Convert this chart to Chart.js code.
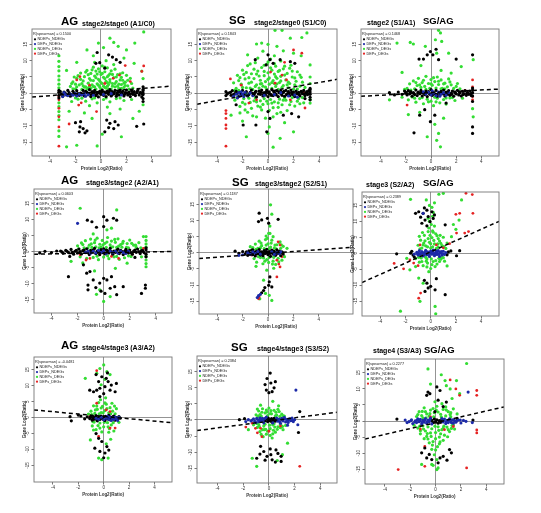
<!DOCTYPE html>
<html><head><meta charset="utf-8">
<script src="https://cdn.jsdelivr.net/npm/chart.js@4.4.1/dist/chart.umd.min.js"></script>
<style>
html,body{margin:0;padding:0;background:#fff;width:541px;height:513px;overflow:hidden;position:relative;font-family:"Liberation Sans",Arial,sans-serif}
.t{position:absolute;font-weight:bold;white-space:nowrap;line-height:1;color:#000}
</style></head><body>
<script>
// ---------- text / ticks ----------
const legendLabels = ['NDEPs_NDEGs','DEPs_NDEGs','NDEPs_DEGs','DEPs_DEGs'];
const groupNames = ['AG','SG','SG/AG','AG','SG','SG/AG','AG','SG','SG/AG'];
const comparisons = ['stage2/stage0 (A1/C0)','stage2/stage0 (S1/C0)','stage2 (S1/A1)','stage3/stage2 (A2/A1)','stage3/stage2 (S2/S1)','stage3 (S2/A2)','stage4/stage3 (A3/A2)','stage4/stage3 (S3/S2)','stage4 (S3/A3)'];
const spearman = ['0.1500','0.1843','0.1468','0.0603','0.1187','0.2389','-0.0481','0.2384','0.2277'];
const xTickValues = [-4,-2,0,2,4];
const yTickValues = [-15,-10,-5,0,5,10,15];
const xAxisTitle = 'Protein Log2(Ratio)';
const yAxisTitle = 'Gene Log2(Ratio)';

// ---------- data: flat [x,y,...] ----------
// Panel 1 AG A1/C0
const p1Black = [-3.3,0.3,-3.3,-0.6,-3.3,-1.4,-3.3,0.9,-3.1,-0.2,-2.9,0.4,-2.7,-0.5,-2.5,0.2,-2.4,-0.9,-2.2,0.6,-2.0,-0.3,-1.9,0.8,-1.7,-0.6,-1.6,0.1,-1.4,0.9,-1.3,-0.8,-1.1,0.3,-1.0,-0.4,-0.9,1.1,-0.8,-1.0,-0.7,0.5,-0.6,-0.2,-0.5,0.9,-0.4,-0.7,-0.3,0.3,-0.2,-1.1,-0.1,0.6,0,-0.3,0.1,1.0,0.2,-0.6,0.3,0.2,0.4,-1.0,0.5,0.7,0.6,-0.3,0.7,1.1,0.8,-0.8,0.9,0.4,1.0,-0.2,1.1,0.9,1.2,-0.9,1.3,0.3,1.4,-0.5,1.5,1.0,1.6,-0.2,1.7,0.6,1.8,-0.8,1.9,0.2,2.0,1.0,2.1,-0.5,2.2,0.4,2.3,-1.0,2.4,0.8,2.5,-0.3,2.6,0.5,2.7,-0.7,2.8,0.2,2.9,1.1,3.0,-0.5,3.1,0.3,3.2,-1.1,3.3,0.8,3.3,-0.4,3.3,-1.6,3.3,0.1,3.3,1.2,
 -3.2,0.6,-3.0,-0.9,-2.8,0.0,-2.6,0.9,-2.3,-0.4,-2.1,0.1,-1.8,-0.1,-1.5,-0.3,-1.2,0.6,-0.95,-0.1,-0.75,-0.4,-0.55,0.3,-0.35,-0.3,-0.15,0.1,0.05,0.4,0.25,-0.2,0.45,0.1,0.65,0.4,0.85,-0.5,1.05,0.2,1.25,-0.3,1.45,0.5,1.65,0.2,1.85,-0.3,2.05,0.1,2.25,-0.2,2.45,0.0,2.65,-0.4,2.85,0.6,3.05,0.1,3.25,-0.2,
 -0.3,12.5,-0.1,9.4,0.6,11.8,0.9,11.1,1.2,10.3,-0.4,9.2,0.3,7.7,1.5,9.5,-1.65,-10.3,-1.4,-10.8,-1.1,-11.5,-1.25,-12.1,-1.7,-11.8,-1.6,-8.7,0.45,-8.2,0.7,-9.2,1.1,-8.7,1.35,-9.7,1.0,-10.8,0.6,-10.5,2.8,-10.1,3.35,-9.4,0.3,-11.8,-2.0,-9.0,3.3,2.0,3.3,-2.5];
const p1Blue = [-2.8,-0.4,-2.6,-0.7,-2.4,-0.2,-2.2,-0.6,-2.0,-0.1,-1.9,-0.8,-1.7,-0.3,-1.5,-0.5,-1.3,-0.1,-1.2,-0.9,-1.0,-0.4,-0.6,-0.6,0.2,-0.4,0.8,-0.1,1.6,-0.5,-2.9,0.2,-3.0,-1.0];
const p1Green = [-3.3,11.5,-3.3,9.8,-3.3,8.2,-3.3,6.9,-3.3,5.3,-3.3,4.1,-3.3,2.8,-3.3,1.7,-3.3,-2.9,-3.3,-4.1,-3.3,-5.6,-3.3,-6.8,-3.3,-8.1,-3.3,-11.5,-3.3,-13.2,
 -2.4,2.1,-2.2,3.5,-2.0,1.4,-1.9,4.6,-1.7,2.6,-1.6,6.2,-1.5,1.2,-1.4,3.8,-1.3,5.1,-1.2,2.0,-1.1,7.0,-1.0,3.1,-0.9,4.5,-0.8,1.5,-0.8,6.1,-0.7,2.6,-0.6,8.0,-0.6,3.9,-0.5,5.3,-0.4,1.3,-0.4,6.8,-0.3,2.9,-0.2,4.3,-0.2,7.5,-0.1,1.9,0,5.8,0,3.3,0.1,8.4,0.2,2.2,0.2,4.9,0.3,6.6,0.4,1.6,0.4,3.7,0.5,7.8,0.6,2.7,0.6,5.5,0.7,4.2,0.8,1.3,0.8,6.9,0.9,3.0,1.0,4.8,1.1,2.0,1.1,7.4,1.2,3.6,1.3,5.7,1.4,1.5,1.5,4.1,1.6,2.7,1.7,6.3,1.8,1.8,1.9,3.4,2.1,2.3,2.3,4.6,2.5,1.6,
 -2.0,2.8,-1.8,5.4,-1.5,3.0,-1.3,1.9,-1.0,5.7,-0.9,2.2,-0.7,7.2,-0.5,2.0,-0.3,5.9,-0.1,3.8,0.1,6.1,0.3,1.8,0.3,4.5,0.5,3.2,0.7,6.0,0.9,2.2,1.0,8.8,1.2,5.0,1.4,2.8,1.6,4.9,1.8,3.1,2.0,5.5,2.2,1.3,-2.2,1.4,-1.1,1.3,0.0,1.4,0.6,1.3,1.6,1.5,-0.5,9.5,0.4,10.0,
 -2.3,3.0,-2.1,5.0,-1.9,2.0,-1.6,4.3,-1.4,2.3,-1.2,6.5,-1.0,1.6,-0.8,4.0,-0.6,2.1,-0.4,4.8,-0.2,2.5,-0.1,6.6,0.1,3.0,0.3,8.0,0.5,2.2,0.5,5.1,0.7,3.4,0.9,5.8,1.1,3.0,1.3,2.2,1.5,6.0,1.7,4.0,1.9,2.4,2.1,4.0,2.4,3.0,-1.5,-1.5,-0.5,-1.4,0.4,-1.4,1.5,-1.4,-2.0,-1.4,
 -1.8,-1.8,-1.2,-2.4,-0.7,-1.7,-0.3,-2.9,0.2,-1.9,0.7,-2.6,1.2,-1.6,1.8,-2.2,-0.9,-3.8,0.5,-4.2,-2.3,-2.5,2.4,-1.9,
 3.35,18.8,0.7,16.9,-0.2,15.4,1.0,15.6,2.65,15.4,2.0,13.3,-1.1,13.3,0.2,14,1.35,14.4,-0.6,11.5,1.8,10.8,-1.9,9.5,2.6,9.2,-2.7,7.0,3.2,6.8,3.3,4.5,3.3,-3.5,-1.9,-15.9,-2.7,-16.4,-0.3,-16.1,-0.7,-7.7,0.7,-6.2,2.5,-7.7,1.6,-13.3,-1.3,-6.0,0.1,-12.5,-2.5,-5.5,1.5,-4.8,3.0,-5.5];
const p1Red = [-1.65,5.1,3.35,8.4,1.45,5.6,0.95,4.6,-1.55,-2.9,-1.75,-3.6,-3.3,-1.0,-3.3,-2.0,-3.3,-4.6,-3.3,-7.2,-3.3,-10.3,-3.3,-16.2,-2.5,-9.4,-0.35,-5.6,3.2,6.7,2.3,3.6,-1.9,4.1,0.3,3.0,1.9,8.5,-0.9,2.5];
const p1Fit = [-5.41,-1.15,5.49,2.2];

// Panel 2 SG S1/C0
const p2Black = [-3.3,0.5,-3.3,-0.7,-3.1,0.1,-2.9,-0.6,-2.8,0.8,-2.6,-0.1,-2.5,0.6,-2.3,-0.9,-2.2,0.2,-2.0,0.9,-1.9,-0.4,-1.7,0.5,-1.6,-0.8,-1.4,0.3,-1.3,1.0,-1.1,-0.5,-1.0,0.4,-0.9,-1.1,-0.7,0.7,-0.6,-0.3,-0.5,1.0,-0.4,-0.8,-0.3,0.2,-0.2,-0.5,-0.1,0.9,0,-1.0,0.1,0.4,0.2,-0.3,0.3,1.1,0.4,-0.7,0.5,0.3,0.6,-0.2,0.7,0.8,0.8,-1.0,0.9,0.1,1.0,0.7,1.1,-0.6,1.2,0.3,1.3,-0.9,1.4,0.9,1.5,-0.2,1.6,0.5,1.7,-0.7,1.8,1.0,1.9,-0.3,2.0,0.4,2.1,-1.0,2.2,0.7,2.3,-0.2,2.4,0.3,2.5,-0.8,2.6,0.6,2.7,-0.1,2.8,0.9,2.9,-0.7,3.0,0.2,3.1,-0.4,3.2,0.8,3.3,-1.2,3.3,0.4,3.3,-0.3,3.3,1.1,3.3,-2.0,
 -3.2,-0.2,-2.95,0.3,-2.7,-0.4,-2.4,0.0,-2.1,-0.3,-1.8,0.1,-1.5,-0.4,-1.2,0.0,-0.95,0.6,-0.75,-0.2,-0.55,0.4,-0.35,-0.3,-0.15,0.3,0.05,0.0,0.25,-0.6,0.45,0.6,0.65,-0.5,0.85,0.4,1.05,-0.1,1.25,0.6,1.45,-0.4,1.65,0.0,1.85,0.3,2.05,-0.5,2.25,0.1,2.45,-0.4,2.65,0.2,2.85,-0.2,3.05,0.5,3.25,0.0,
 0,11.8,0.15,10.3,-0.15,8.7,0.95,10.3,1.75,9.7,0.4,9.2,-1.0,10.3,2.1,9.2,-1.95,-9.7,-0.95,-9.7,0,-5.6,0.15,-7.7,1.2,-6.7,1.85,-6.2,-0.1,-11.8,2.4,-7.2,-2.5,-3.5,3.3,1.5,2.9,-1.6];
const p2Blue = [-2.5,-0.3,-2.3,0.2,-2.2,-0.8,-2.1,0.5,-2.0,-0.2,-1.9,-1.0,-1.8,0.3,-1.6,-0.5,-1.4,0.1,-2.4,-1.4,-1.2,-0.7,0.5,-0.4,1.0,0.2,2.1,-0.5,2.3,-1.2,1.6,-0.8,-0.3,-0.6,-2.7,-0.9];
const p2Green = [-2.7,3.2,-2.6,-2.1,-2.4,5.5,-2.3,0.9,-2.2,-4.0,-2.1,2.8,-2.0,7.1,-1.9,-1.6,-1.8,4.4,-1.7,1.7,-1.6,-5.8,-1.6,8.5,-1.5,3.1,-1.4,-2.8,-1.3,6.0,-1.2,1.2,-1.2,-6.9,-1.1,4.5,-1.0,-1.4,-1.0,9.4,-0.9,2.6,-0.8,-3.9,-0.8,6.8,-0.7,1.6,-0.6,4.0,-0.6,-2.3,-0.5,7.9,-0.5,-5.1,-0.4,2.2,-0.3,5.4,-0.3,-1.6,-0.2,3.6,-0.2,-7.6,-0.1,8.9,-0.1,1.3,0,6.3,0,-3.2,0.1,2.8,0.1,4.7,0.2,-1.9,0.2,10.5,0.3,7.1,0.3,1.5,0.4,-4.4,0.4,3.9,0.5,5.9,0.5,-2.6,0.6,8.3,0.6,2.1,0.7,-6.2,0.7,4.6,0.8,1.2,0.8,6.7,0.9,-1.8,0.9,3.3,1.0,9.9,1.0,5.2,1.1,-3.5,1.2,2.4,1.2,7.5,1.3,-1.3,1.4,4.1,1.5,-5.3,1.5,6.1,1.6,1.7,1.7,3.0,1.8,-2.5,1.8,8.6,1.9,5.0,2.0,1.3,2.1,-3.9,2.2,3.7,2.3,6.6,2.4,-1.6,2.5,2.2,2.6,4.9,2.8,-2.9,2.9,1.8,
 -2.5,1.5,-2.3,3.9,-2.0,-2.8,-1.9,5.8,-1.7,-0.2,-1.5,4.8,-1.4,1.6,-1.3,-4.6,-1.1,7.4,-1.0,2.1,-0.9,-2.6,-0.7,5.3,-0.6,2.9,-0.4,-3.4,-0.3,8.6,-0.2,1.9,0,4.3,0.2,7.8,0.3,-3.0,0.5,3.0,0.6,5.1,0.8,-2.9,0.9,7.0,1.1,1.8,1.3,5.6,1.4,-2.1,1.6,3.4,1.7,7.7,1.9,-1.3,2.1,4.7,2.3,1.3,2.5,-3.2,2.7,3.4,-0.8,10.8,0.5,11.5,-2.2,-6.0,1.0,-5.8,
 -2.6,0.9,-2.4,-1.2,-2.2,4.8,-2.0,1.8,-1.8,-3.3,-1.7,6.4,-1.5,-1.5,-1.3,3.4,-1.1,-2.3,-0.9,5.9,-0.6,-4.2,-0.5,3.0,-0.3,6.7,-0.1,-2.4,0.0,9.6,0.1,-5.2,0.3,3.3,0.5,9.1,0.7,2.9,0.8,-4.3,1.0,3.8,1.2,-2.1,1.3,8.3,1.5,2.6,1.7,-3.5,1.9,6.8,2.1,2.6,2.3,-2.4,2.5,5.6,2.7,-1.3,-1.4,9.0,0.4,-7.2,
 3.3,8.7,3.3,5.0,3.3,3.0,3.3,-1.9,3.3,-3.0,
 0.55,19.3,1.1,19.3,3.05,18.5,2.65,17.1,1.75,16.9,-0.5,15.4,-0.9,15.1,0,15.0,0.7,14.4,2.0,12.3,-0.4,12.9,1.2,13.0,-1.6,11.8,2.6,11.5,-1.7,-13.3,0,-12.3,0.95,-13.8,2.0,-11.8,-0.9,-7.2,-1.8,-5.1,-2.0,-8.5,0.1,-10.3,1.3,-9.0,-2.9,-6.7,0.4,-16.5];
const p2Red = [-2.95,4.4,-3.3,-6.2,-3.3,-7.7,-3.3,-9.7,-3.3,-10.8,-3.3,-16.2,-3.3,-5.3,2.0,13.3,2.65,12.3,1.1,5.6,1.45,4.1,0.55,3.1,-0.9,-2.0,1.75,-2.0,2.8,0.3,-2.1,2.5,0.2,6.5,1.3,9.5,-1.5,-3.0,2.9,-4.5];
const p2Fit = [-5.57,-3.35,5.41,4.3];

// Panel 3 SG/AG S1/A1
const p3Black = [-3.3,0.2,-2.9,-0.5,-2.6,0.4,-2.3,-0.3,-2.1,0.7,-2.0,0.3,-1.9,-0.5,-1.8,0.8,-1.7,-0.2,-1.6,0.5,-1.5,-0.9,-1.4,0.2,-1.3,-0.4,-1.2,1.0,-1.1,-0.7,-1.0,0.4,-0.9,-0.1,-0.8,0.9,-0.7,-0.8,-0.6,0.1,-0.5,-0.4,-0.4,0.7,-0.3,-1.0,-0.2,0.5,-0.1,-0.3,0,1.1,0.1,-0.6,0.2,0.3,0.3,-0.2,0.4,0.9,0.5,-0.9,0.6,0.2,0.7,-0.5,0.8,0.6,0.9,-0.1,1.0,1.0,1.1,-0.8,1.2,0.4,1.3,-0.3,1.4,0.8,1.5,-0.6,1.6,0.1,1.7,0.7,1.8,-0.9,1.9,0.3,2.0,-0.2,2.1,0.9,2.2,-0.5,2.3,0.2,2.4,-0.8,2.5,0.6,2.6,-0.1,2.7,0.8,2.8,-0.6,2.9,0.3,3.0,-0.3,3.1,0.7,3.2,-0.7,3.3,0.2,3.3,-0.8,3.3,1.0,
 -1.95,0.0,-1.65,0.2,-1.35,-0.1,-1.05,0.1,-0.75,0.3,-0.45,-0.1,-0.15,0.2,0.15,0.0,0.45,-0.3,0.75,0.1,1.05,-0.2,1.35,0.1,1.65,-0.3,1.95,0.0,2.25,0.4,2.55,-0.4,2.85,0.0,3.15,-0.1,
 -0.95,10.5,-0.6,10.5,-0.3,11.8,-0.05,12.8,0.4,13.5,0.15,11.8,0.6,10.3,2.0,10.5,3.3,11.8,3.3,-10.3,3.3,-12.3,-0.9,-6.7,-0.05,-8.7,-1.35,-12.1,0.3,-6.7,-0.5,-5.0,3.3,-2.5,3.3,1.6,1.2,-3.0];
const p3Blue = [-0.4,-0.2,-0.2,0.3,0,-0.5,0.2,0.1,0.4,-0.7,0.6,0.4,0.8,-0.3,1.0,0.2,1.2,-0.6,1.4,0.3,0.1,0.8,0.7,-0.9,-0.6,0.5];
const p3Green = [-1.9,1.5,-1.8,-2.0,-1.7,2.9,-1.5,-1.1,-1.4,3.8,-1.3,1.4,-1.2,-2.7,-1.1,2.4,-1.0,4.6,-0.9,-1.6,-0.8,1.8,-0.7,3.3,-0.6,-3.2,-0.5,2.1,-0.4,5.2,-0.3,-1.8,-0.2,3.0,-0.1,1.5,0,4.2,0,-2.4,0.1,2.5,0.2,-3.8,0.3,3.6,0.4,1.6,0.5,5.0,0.5,-1.5,0.6,2.7,0.7,-2.9,0.8,4.1,0.9,1.5,1.0,-1.9,1.1,3.1,1.2,-3.3,1.3,2.0,1.4,4.4,1.5,-1.4,1.6,2.6,1.8,1.5,1.9,-2.2,2.1,3.0,2.3,1.4,2.5,-1.5,-2.3,-1.2,-2.1,1.2,
 -1.6,1.0,-1.2,3.3,-0.9,2.6,-0.6,4.0,-0.4,1.2,-0.2,-2.6,0,2.9,0.2,4.8,0.4,-2.6,0.6,3.7,0.8,1.4,1.0,2.9,1.2,-1.4,1.5,3.5,1.7,-1.3,2.0,2.1,-1.3,-1.5,-0.7,-1.3,0.3,-1.2,1.1,1.4,
 0.6,19.3,0.75,18.5,-1.65,15.6,-1.4,15.1,0.35,16.4,0.85,15.9,-0.45,14.4,0.45,12.3,1.4,12.3,3.35,10.3,-2.3,6.4,-2.7,15.4,0.8,7.0,-0.8,8.5,1.6,6.2,0.6,-12.3,0.45,-14.4,0.75,-16.4,-0.3,-13.3,3.35,-7.2,-3.3,-2.0,-0.9,-5.8,0.3,-9.5,1.0,-7.6,-1.8,-6.5,3.3,-4.7,2.4,8.2];
const p3Red = [3.3,4.1,3.3,2.0,3.3,-1.0,3.3,-2.0,-1.9,-3.6,2.7,0.9];
const p3Fit = [-5.56,-0.9,5.4,1.3];

// Panel 4 AG A2/A1
const p4Black = [-4.9,-0.4,-4.5,0.1,-4.0,-0.3,-3.6,0.2,-3.3,0.2,-3.1,-0.5,-2.9,0.4,-2.7,-0.3,-2.5,0.7,-2.3,-0.8,-2.2,0.1,-2.0,-0.4,-1.9,0.8,-1.7,-0.7,-1.6,0.3,-1.4,-0.2,-1.3,0.9,-1.1,-0.9,-1.0,0.4,-0.9,-0.1,-0.7,1.0,-0.6,-0.6,-0.5,0.2,-0.3,-0.9,-0.2,0.6,-0.1,-0.3,0,0.9,0.1,-0.7,0.3,0.3,0.4,-0.4,0.5,1.0,0.7,-0.8,0.8,0.2,0.9,-0.2,1.1,0.8,1.2,-0.6,1.3,0.4,1.5,-0.9,1.6,0.1,1.7,0.7,1.9,-0.4,2.0,0.5,2.2,-0.8,2.3,0.2,2.5,-0.2,2.6,0.8,2.8,-0.6,2.9,0.3,3.1,-0.3,3.25,0.6,3.25,-0.8,3.25,-1.6,3.25,1.2,
 -3.2,-0.1,-2.8,0.1,-2.4,-0.2,-2.1,0.4,-1.8,0.0,-1.5,0.5,-1.2,-0.3,-0.8,0.5,-0.4,0.0,0,-0.2,0.2,0.5,0.6,0.0,1.0,0.4,1.4,0.0,1.8,0.2,2.1,-0.3,2.4,0.5,2.7,0.0,3.0,0.3,
 -1.25,9.8,-0.9,9.3,-0.55,7.6,0,10.9,0,7.8,0.25,9.8,0.75,10.4,1.0,9.8,-2.7,-7.8,-1.3,-6.7,-1.05,-6.2,-1.55,-4.1,-1.2,-10.4,-1.2,-11.9,-0.8,-8.8,-0.3,-9.8,0,-8.3,0.25,-8.8,0.5,-11.4,0.85,-10.9,0.1,-13.0,1.5,-10.9,2.9,-13.0,3.2,-10.4,3.2,-11.4,-0.6,-11.2,0.6,-7.8,-0.2,-12.3,1.0,-13.4,-2.6,-1.5,2.4,-1.8];
const p4Blue = [-2.0,8.8,-1.4,-0.3,-1.2,0.2,-1.0,-0.5,-0.8,0.1,-0.6,-0.4,-0.4,0.4,-0.2,-0.2,0,0.3,0.2,-0.6,0.5,0.2,0.7,-0.3,0.9,0.1,1.1,-0.5,1.3,0.2,1.5,-0.3,1.7,-0.6,1.9,0.1];
const p4Green = [-2.0,1.8,-1.8,-1.6,-1.7,2.7,-1.5,1.2,-1.4,3.4,-1.3,-2.1,-1.1,2.0,-1.0,3.9,-0.9,1.3,-0.8,-1.8,-0.7,2.8,-0.6,1.5,-0.5,4.2,-0.4,-2.5,-0.3,2.3,-0.2,1.4,-0.1,3.5,0,-1.7,0.1,2.6,0.2,1.3,0.3,4.4,0.4,-2.2,0.5,2.1,0.6,3.3,0.7,1.5,0.8,-1.6,0.9,2.9,1.0,1.3,1.1,4.0,1.2,-2.4,1.3,2.2,1.4,1.4,1.5,3.2,1.6,-1.9,1.8,2.5,1.9,1.2,2.0,3.6,2.1,-1.5,2.3,2.0,2.5,1.3,2.7,2.8,2.9,-1.6,
 -1.9,0.9,-1.6,2.2,-1.2,1.2,-0.95,2.4,-0.65,3.6,-0.35,1.2,-0.05,2.1,0.25,3.0,0.55,1.3,0.85,3.8,1.15,1.7,1.45,2.6,1.75,1.3,2.15,2.6,2.45,2.0,2.85,1.2,-0.5,-1.4,0.3,-1.3,1.0,-1.5,1.9,-1.3,
 3.25,4.7,3.25,3.5,3.25,2.4,3.25,1.4,3.25,-1.5,3.25,-2.6,3.25,-3.7,3.25,-4.7,
 -1.8,13.5,1.0,13.0,0.6,7.3,0.25,6.8,-0.8,5.5,3.05,4.7,-0.3,-11.9,0,-15.5,0.5,-14.0,-0.55,-13.3,-1.6,-3.5,1.8,-3.6,-0.7,-6.0,0.9,-5.2,-2.5,-3.0];
const p4Red = [-1.35,-2.6,-1.05,-2.1,1.15,-2.1,3.05,1.0,-0.3,-1.0,-1.8,-1.0,0.6,-1.5,2.2,-0.8];
const p4Fit = [-5.34,-0.8,5.24,0.05];

// Panel 5 SG S2/S1
const p5Black = [-2.6,0.5,-2.3,-0.2,-2.0,0.4,-1.8,-0.4,-1.7,0.3,-1.6,-0.8,-1.5,0.6,-1.4,-0.2,-1.3,0.8,-1.2,-0.6,-1.1,0.2,-1.0,-1.0,-0.9,0.5,-0.8,-0.3,-0.7,1.0,-0.6,-0.7,-0.5,0.3,-0.4,-0.9,-0.3,0.7,-0.2,-0.2,-0.1,1.1,0,-0.6,0.1,0.4,0.2,-1.1,0.3,0.8,0.4,-0.4,0.5,0.2,0.6,-0.8,0.7,0.9,0.8,-0.2,0.9,0.5,1.0,-0.9,1.1,0.3,1.2,-0.4,-0.05,0.1,0.35,-0.1,-0.45,0.0,0.75,0.1,
 -1.55,0.1,-1.25,-0.2,-0.95,0.1,-0.65,0.3,-0.35,-0.2,-0.15,0.4,0.15,-0.2,0.45,0.5,0.65,0.0,0.95,0.2,1.15,-0.1,
 -0.7,12.3,-0.5,10.2,-0.75,9.7,-0.05,10.7,0.05,9.2,0.8,10.4,0.15,-7.5,0.05,-10.1,-0.25,-10.8,-0.35,-11.7,0.3,-10.6,-0.5,-12.4,0.1,-9.0,-1.2,0.9];
const p5Blue = [-2.0,-0.6,-1.6,0.0,-1.4,-0.5,-1.2,0.3,-1.0,-0.2,-0.8,0.4,-0.6,-0.4,0.3,0.3,0.5,-0.5,0.7,0.0,0.9,-0.3,1.0,0.3,-0.75,-13.3,-0.6,-12.9,-0.85,-13.9,-2.3,-0.8];
const p5Green = [-1.2,1.6,-1.1,-1.8,-1.0,2.7,-0.9,-2.9,-0.8,1.4,-0.7,3.6,-0.6,-1.5,-0.5,2.2,-0.4,-3.4,-0.3,1.3,-0.2,4.1,-0.1,-2.1,0,2.8,0.1,-1.4,0.2,1.8,0.3,3.9,0.4,-2.6,0.5,1.5,0.6,-3.6,0.7,2.5,0.8,-1.7,0.9,3.2,1.0,1.4,1.1,-2.3,1.2,2.0,1.3,-1.2,-0.15,5.2,0.15,6.0,-0.95,-4.2,0.45,-4.8,-1.4,1.9,1.5,1.4,
 -0.95,1.1,-0.75,-1.2,-0.55,3.0,-0.35,-1.6,-0.15,2.4,0.05,-3.0,0.25,3.0,0.45,-1.4,0.65,1.2,0.85,-2.8,1.05,2.5,-0.25,-2.6,0.55,2.4,-0.6,1.6,0.1,1.3,0.35,-3.5,-0.05,4.5,
 0.2,14.9,0.05,6.0,0.4,5.0,0.95,3.4,-0.1,-5.4,-0.35,-8.5,-0.65,-14.3,0.3,-14.8,0.1,-13.2,-0.2,-12.6,0.3,12.0,0.15,8.3];
const p5Red = [0.8,3.4,0.95,2.4,0.7,-2.3,0.85,-3.5,0.95,-4.4,-0.75,-14.3,-0.7,-13.7,0.7,-7.5,-1.3,-0.7,1.1,-1.2];
const p5Fit = [-5.45,-1.8,6.71,1.75];

// Panel 6 SG/AG S2/A2
const p6Black = [-2.7,-0.2,-1.6,0.0,-1.3,-1.2,-1.5,0.6,1.3,-0.5,1.6,0.7,2.05,-0.8,2.3,0.8,-1.4,-0.6,1.4,0.4,
 -0.95,13.0,-0.6,12.5,-0.3,13.5,0.1,13.0,-0.2,11.5,-0.45,10.4,-0.05,9.9,0.2,10.9,-0.7,9.4,1.15,8.9,-1.2,12.5,-0.3,8.6,-0.8,11.3,0.3,12.0,-0.5,14.2,
 -0.3,-9.4,-0.2,-10.9,0,-10.4,-0.45,-12.0,0.35,-11.5,1.15,-13.0,0.45,-8.0,-0.5,-8.5];
const p6Blue = [-1.1,0.3,-1.0,-0.6,-0.9,0.8,-0.8,-0.2,-0.7,0.5,-0.6,-0.9,-0.5,0.2,-0.4,0.9,-0.3,-0.5,-0.2,0.4,-0.1,-1.0,0,0.7,0.1,-0.3,0.2,1.0,0.3,-0.8,0.4,0.3,0.5,-0.4,0.6,0.8,0.7,-1.0,0.8,0.1,0.9,-0.6,1.0,0.6,-0.95,0.0,-0.45,-0.3,0.05,0.1,0.55,0.0,0.95,-0.2,-0.65,0.1,0.25,-0.1,0.75,0.4,-0.25,0.0,-0.85,-0.4,-1.3,-0.3,1.2,0.2,-0.6,12.5,
 -1.05,-0.2,-0.75,0.0,-0.35,0.6,-0.15,-0.4,0.15,0.5,0.35,-0.4,0.65,-0.3,0.85,0.5,1.1,-0.4,-0.55,-0.6,0.45,0.7,-0.05,0.3];
const p6Green = [-1.0,2.5,-0.9,-2.8,-0.8,4.1,-0.7,1.6,-0.6,-3.9,-0.5,5.6,-0.4,2.3,-0.3,-1.8,-0.2,6.8,-0.1,3.4,0,-4.8,0,1.6,0.1,4.9,0.2,-2.6,0.3,2.9,0.4,6.1,0.5,-3.4,0.6,1.9,0.7,3.8,0.8,-1.9,0.9,2.4,1.0,5.0,1.1,-2.5,1.2,1.5,-0.55,3.2,0.15,2.0,-0.25,-3.1,0.65,-1.6,-1.2,-1.7,1.3,3.2,-0.15,7.9,0.05,9.0,
 -0.85,1.4,-0.75,-1.5,-0.45,3.9,-0.35,-2.5,-0.05,5.6,0.05,-1.8,0.25,4.0,0.35,-4.2,0.55,2.9,0.75,5.6,0.85,-1.4,-0.65,6.5,-0.25,2.0,0.45,1.5,0.15,7.0,-0.95,-1.3,1.05,2.1,-0.15,-5.8,0.3,8.5,
 -0.9,5.3,-0.6,2.6,-0.4,-1.3,-0.2,4.6,0,3.0,0.2,6.6,0.4,-2.3,0.6,4.6,0.8,3.1,1.0,-1.4,-0.7,-2.6,-0.3,-4.3,0.1,-3.6,0.7,-2.6,-0.1,10.0,0.15,11.6,
 -0.2,11.0,0.1,14.4,0.3,15.8,-0.1,15.0,0.2,12.8,-0.35,16.7,
 -1.6,16.9,0.65,18.5,1.0,18.8,2.45,16.7,2.25,10.4,1.65,5.2,0.5,5.5,-0.95,-7.8,-0.6,-9.4,-0.85,-15.1,-2.4,-18.2,0.35,-16.7,-1.65,-5.2,-1.2,-4.2,0.4,-19.0,1.3,-4.0,2.0,7.5,1.8,9.0,-1.9,-1.6];
const p6Red = [2.8,18.8,3.3,18.4,2.0,12.2,2.3,12.5,3.35,12.5,2.7,6.3,2.05,6.3,-1.65,-2.1,-2.15,-4.9,-1.35,-3.1,-0.85,2.6,0.45,2.6,-0.8,-12.5,-0.95,-14.1,-2.9,-3.2,1.0,1.7,1.5,3.0,3.0,6.8,-1.0,-3.9];
const p6Fit = [-5.45,-9.2,5.42,10.0];

// Panel 7 AG A3/A2
const p7Black = [-1.1,-0.3,-1.0,0.4,-0.9,-0.8,-0.8,0.2,-0.7,-0.5,-0.6,0.6,-0.5,-1.0,-0.4,0.1,-0.3,-0.6,-0.2,0.5,-0.1,-0.2,0,0.3,0.1,-0.9,0.2,0.2,0.3,-0.4,0.4,0.7,0.5,-0.7,0.6,0.1,0.7,-0.3,0.8,0.5,0.9,-0.8,1.0,0.0,1.1,-0.5,-1.3,0.2,-1.5,-0.4,-1.8,0.5,1.3,-0.2,-2.65,0.3,-2.55,-1.0,-2.0,0.8,
 -1.05,0.1,-0.85,-0.3,-0.65,0.0,-0.45,-0.4,-0.25,0.0,-0.05,-0.5,0.15,0.4,0.35,0.0,0.55,-0.2,0.75,0.3,0.95,-0.3,1.2,0.3,
 -0.4,11.3,-0.15,12.8,0.2,12.3,0.35,11.3,-0.55,8.6,-0.3,9.2,0.1,9.7,0.5,8.6,-1.1,8.6,-0.8,8.1,0.9,8.1,1.0,10.7,0,7.5,-0.3,6.6,0.6,10.2,-0.6,13.5,0.3,14.0,
 -0.7,-9.6,-0.4,-6.5,-0.15,-7.5,0.25,-9.1,0.1,-11.1,-0.3,-10.6,0.4,-10.2,0,-12.6,-0.6,-5.0];
const p7Blue = [-0.4,-0.5,-0.2,0.1,0,-0.7,0.2,-0.2,0.4,-0.6,0.5,0.2,0.6,-0.9,0.7,-0.1,0.8,-0.6,0.9,0.2,1.0,-0.4,1.1,-0.9,0.3,0.4,-0.6,-0.2,1.2,0.1];
const p7Green = [-1.0,2.0,-0.9,-2.6,-0.8,3.7,-0.7,1.3,-0.6,-3.8,-0.5,2.6,-0.4,4.7,-0.3,-1.7,-0.2,1.6,-0.1,3.5,0,-2.9,0.1,2.2,0.2,4.2,0.3,-1.6,0.4,1.5,0.5,3.1,0.6,-2.3,0.7,2.0,0.8,-4.2,0.9,1.2,1.0,2.8,-0.75,-1.4,0.45,-3.5,-0.15,-4.5,-1.2,1.1,1.2,-1.5,-0.25,5.6,0.15,6.2,
 -0.95,0.9,-0.85,-1.3,-0.65,2.4,-0.45,-2.5,-0.35,1.2,-0.05,1.5,0.05,-1.5,0.25,2.8,0.35,-2.9,0.55,1.2,0.75,-1.6,0.85,3.6,-0.55,3.6,0.65,4.5,-0.2,3.0,0.1,4.6,0.4,-4.6,-0.3,-3.3,
 0,16.5,-0.3,15.4,0.25,14.4,-0.55,13.9,0.5,13.5,-1.45,12.3,0.1,12.0,-0.2,10.3,
 -0.4,-12.7,-0.15,-13.2,0.35,-12.7,-1.05,-7.0,-0.8,-3.9,0.2,-8.2,0.55,-6.8];
const p7Red = [-0.55,14.7,-0.55,4.5,0.5,1.9,-0.4,-5.9,0.9,-3.3,0.5,-3.3,-1.1,0.3,0.2,2.4];
const p7Fit = [-5.49,2.4,5.38,-1.6];

// Panel 8 SG S3/S2
const p8Black = [-0.3,-0.2,-0.2,0.3,-0.1,-0.5,0,0.1,0.1,-0.3,0.2,0.4,0.3,-0.1,0.4,0.5,0.5,-0.4,0.6,0.2,-0.05,0.6,0.25,-0.7,-2.3,0.1,-1.9,0.4,
 -0.15,12.9,0.15,11.5,0.5,11.9,-0.2,9.3,0,8.5,0.25,8.8,-0.3,11.0,0.4,10.0,0.1,14.6,
 -0.65,-8.2,-0.4,-9.8,-0.15,-11.3,0.15,-10.8,0.25,-12.4,0.55,-9.3,0.95,-11.3,-0.95,-11.9,0.95,-12.9,0.5,-13.1,-0.3,-12.5,0.1,-9.0,-0.7,-10.6,0.7,-10.4,
 2.3,-3.9,2.4,2.6,1.5,0.0];
const p8Blue = [-1.4,-0.3,-1.2,0.4,-1.0,-0.8,-0.9,0.2,-0.8,-0.5,-0.7,0.7,-0.6,-0.2,-0.5,0.5,-0.4,-0.9,0.6,0.6,0.7,-0.4,0.8,0.3,0.9,-1.0,1.0,0.5,1.1,-0.3,1.2,0.8,1.3,-0.6,1.4,0.2,1.5,-0.8,1.6,0.4,1.7,-0.2,1.8,0.6,1.9,-0.5,2.0,0.1,-1.6,0.1,-1.8,-0.5,2.1,9.3,2.25,-1.5,1.45,-1.6,-0.2,0.9,0.3,-0.9,
 -1.3,0.0,-1.1,-0.4,-0.95,0.5,-0.75,-0.1,-0.55,0.2,0.65,-0.1,0.85,-0.5,1.05,0.0,1.25,0.3,1.45,-0.2,1.65,0.0,1.85,-0.1,-0.45,0.0,-0.3,0.5];
const p8Green = [-1.0,1.6,-0.9,-2.3,-0.8,2.8,-0.7,-3.6,-0.6,1.2,-0.5,3.5,-0.4,-1.9,-0.3,2.2,-0.2,-4.4,-0.1,1.4,0,3.7,0.1,-2.7,0.2,1.9,0.3,-1.5,0.4,3.0,0.5,-3.8,0.6,1.5,0.7,-2.1,0.8,2.6,0.9,-1.3,1.0,1.8,1.1,-3.0,1.2,1.2,-1.2,-1.5,-0.45,-5.2,0.25,-5.6,0.75,4.4,-0.65,4.6,1.3,-1.7,
 -0.95,-1.1,-0.85,1.1,-0.75,-2.0,-0.55,2.4,-0.35,-3.0,-0.15,2.5,0.05,-1.6,0.15,2.9,0.35,-3.2,0.55,2.4,0.65,-2.9,0.85,1.1,1.05,-2.0,-0.25,-2.9,0.45,-2.2,-0.6,-4.5,0.1,-4.8,
 -0.9,3.4,-0.7,1.7,-0.5,-3.0,-0.3,-1.3,-0.1,-3.5,0.1,2.0,0.3,-4.3,0.5,1.3,0.7,3.3,0.9,-2.4,1.1,1.3,-0.8,-1.4,0.4,-1.2,-0.2,3.1,
 1.05,-10.8,-0.95,-14.4,-1.3,-11.9,1.45,-7.2,0.65,-12.6,0.3,5.8,-1.6,-3.0];
const p8Red = [-1.05,-2.6,-0.65,-2.6,-1.3,-1.0,-0.55,-5.2,0,-3.5,2.4,-14.4,-1.8,-2.2,0.9,-1.9,-0.9,-4.0];
const p8Fit = [-5.6,-3.3,5.3,2.4];

// Panel 9 SG/AG S3/A3
const p9Black = [-0.3,0.2,-0.2,-0.5,-0.1,0.6,0,-0.2,0.1,0.4,0.2,-0.7,0.3,0.1,0.4,-0.4,0.5,0.5,-3.05,0.6,2.95,0.3,1.7,0.8,
 -0.6,9.0,-0.45,8.5,0.1,10.6,0.35,9.5,0.2,6.5,0.85,5.9,-0.7,8.0,-0.05,2.9,0.6,4.5,
 -0.85,-8.4,-1.1,-9.9,-0.7,-11.5,-0.3,-12.0,0.35,-11.5,0.6,-11.0,1.1,-8.9,1.25,-9.9,0.2,-13.0,-0.5,-10.4,0.9,-12.2];
const p9Blue = [-2.4,0.3,-2.1,-0.2,-1.9,0.4,-1.8,-0.8,-1.6,0.1,-1.5,-0.5,-1.4,0.7,-1.3,-0.2,-1.2,0.5,-1.1,-0.9,-1.0,0.2,-0.9,-0.4,-0.8,0.8,-0.7,-0.7,-0.6,0.3,-0.5,-0.2,-0.4,0.9,0.6,-0.3,0.7,0.6,0.8,-0.8,0.9,0.2,1.0,-0.5,1.1,0.7,1.2,-0.2,1.3,0.4,1.4,-0.7,1.5,0.1,1.6,-0.4,1.8,0.3,2.0,-0.6,2.2,0.2,2.57,9.0,2.9,-0.5,-0.3,-0.9,0.5,0.8,
 -2.25,-0.5,-1.95,0.1,-1.65,-0.3,-1.45,0.3,-1.25,0.1,-1.05,-0.4,-0.85,0.3,-0.65,-0.2,-0.45,0.4,0.65,0.2,0.85,-0.3,1.05,0.3,1.25,-0.5,1.45,0.4,1.65,0.0,1.95,0.3,2.4,-0.1];
const p9Green = [-1.5,1.4,-1.4,-2.2,-1.3,2.9,-1.2,-4.0,-1.1,1.7,-1.0,-1.5,-0.9,4.1,-0.8,-3.1,-0.7,2.2,-0.6,-5.6,-0.5,1.5,-0.4,3.4,-0.3,-2.4,-0.2,-6.4,-0.1,2.6,0,-3.6,0.1,4.6,0.2,-1.8,0.3,-5.0,0.4,2.1,0.5,-2.7,0.6,3.6,0.7,-4.4,0.8,1.6,0.9,-1.9,1.0,2.9,1.1,-3.3,1.2,1.3,1.3,-1.4,1.4,3.8,1.5,-2.5,-0.25,-7.5,0.15,-8.0,-0.05,6.0,0.5,5.4,-1.7,-1.3,1.7,2.2,
 -1.35,0.4,-1.25,-1.6,-1.05,3.0,-0.95,-2.5,-0.75,1.0,-0.65,-3.9,-0.45,2.3,-0.35,-4.8,-0.15,1.3,-0.05,-1.6,0.05,3.4,0.25,-2.9,0.35,-6.5,0.45,1.3,0.65,-1.6,0.85,3.4,0.95,-4.9,1.15,2.0,1.25,-2.3,-0.5,-6.8,0.6,-6.0,-0.9,-5.5,0.0,-9.0,
 -1.4,2.0,-1.2,-3.0,-1.0,1.0,-0.8,2.9,-0.6,-1.8,-0.4,-3.7,-0.2,3.9,0,-5.5,0.2,2.8,0.4,-4.0,0.6,-2.3,0.8,4.4,1.0,-2.7,1.2,2.6,1.4,-1.3,-0.3,-8.8,0.3,-7.1,-0.7,-4.8,
 -0.1,-10.5,0.1,-12.0,-0.2,-13.8,0.2,-14.6,
 2.45,17.9,-0.6,16.2,0.45,14.4,0.75,12.6,0.85,11.0,1.65,12.6,1.15,10.0,1.9,8.5,-1.1,-13.5,-0.3,-13.5,0.1,-15.1,1.3,7.0,-0.4,11.5];
const p9Red = [1.15,12.8,1.6,10.0,1.9,8.0,3.25,9.5,3.25,8.0,3.25,-2.8,3.25,-3.7,-0.85,-7.9,-0.85,-14.1,-2.95,-15.1,2.45,-14.6,-0.4,1.3,1.4,-1.7,0.7,-2.7,-1.2,-2.5];
const p9Fit = [-5.57,-5.6,5.4,4.4];

// ---------- layout (not data) ----------
const boxes = [[32,29,171,156],[197,29,337,156],[361,29,499,156],[34,189,172,313],[199,189,353,314],[362,192,499,316],[34,357,172,482],[197,356,337,483],[365,359,504,484]];
const xRanges = [[-5.41,5.49],[-5.57,5.41],[-5.56,5.40],[-5.34,5.24],[-5.45,6.71],[-5.45,5.42],[-5.49,5.38],[-5.6,5.3],[-5.57,5.4]];
const yRanges = [[-19.2,19.7],[-19.2,19.7],[-19.2,19.7],[-19.1,19.5],[-19,19.8],[-19.7,19.2],[-20.2,19],[-19.6,19.9],[-19.6,19.3]];
// [bigX, bigBaseline, subX, subBaseline]
const titlePos = [[61,26,82,25.5],[229,25,254,24.5],[423,24.5,367,25],[61,185,86,184.5],[232,186.5,255,186],[423,186.5,366,186.5],[61,350,82,349.5],[231,351.5,257,351],[424,353,373,352.5]];

const COLORS = {black:'#000000', blue:'#1c2aa8', green:'#33dd33', red:'#e52222'};
const legendColors = [COLORS.black, COLORS.blue, COLORS.green, COLORS.red];

const panels = [
  [p1Black,p1Blue,p1Green,p1Red,p1Fit],[p2Black,p2Blue,p2Green,p2Red,p2Fit],[p3Black,p3Blue,p3Green,p3Red,p3Fit],
  [p4Black,p4Blue,p4Green,p4Red,p4Fit],[p5Black,p5Blue,p5Green,p5Red,p5Fit],[p6Black,p6Blue,p6Green,p6Red,p6Fit],
  [p7Black,p7Blue,p7Green,p7Red,p7Fit],[p8Black,p8Blue,p8Green,p8Red,p8Fit],[p9Black,p9Blue,p9Green,p9Red,p9Fit]
];

function toPts(flat){ const out=[]; for(let k=0;k<flat.length;k+=2) out.push({x:flat[k],y:flat[k+1]}); return out; }

const boxPlugin = {
  id:'boxPlugin',
  afterDatasetsDraw(chart, args, opts){
    const {ctx, chartArea:a} = chart;
    ctx.save();
    ctx.strokeStyle='#777'; ctx.lineWidth=0.9;
    ctx.strokeRect(a.left, a.top, a.right-a.left, a.bottom-a.top);
    ctx.font='3.8px "Liberation Sans", Arial, sans-serif';
    ctx.textBaseline='middle'; ctx.textAlign='left';
    ctx.fillStyle='#222';
    ctx.fillText('R(spearman) = ' + opts.r, a.left+1, a.top+5.3);
    legendLabels.forEach((lab,k)=>{
      const y = a.top + 10.3 + k*4.8;
      ctx.fillStyle = legendColors[k];
      ctx.beginPath(); ctx.arc(a.left+3, y, 1.1, 0, Math.PI*2); ctx.fill();
      ctx.fillStyle='#222';
      ctx.fillText(lab, a.left+5.5, y);
    });
    ctx.restore();
  }
};

function addTitle(text, x, baseline, size){
  const d=document.createElement('div');
  d.className='t'; d.textContent=text;
  d.style.left=x+'px'; d.style.top=(baseline-0.8465*size)+'px'; d.style.fontSize=size+'px';
  document.body.appendChild(d);
}

const YW=12, XH=15, PT=8, PR=4;
panels.forEach((p,i)=>{
  const [L,T,R,B]=boxes[i];
  const w=R-L+YW+PR, h=B-T+PT+XH;
  const cv=document.createElement('canvas');
  cv.width=w; cv.height=h;
  cv.style.cssText='position:absolute;left:'+(L-YW)+'px;top:'+(T-PT)+'px;width:'+w+'px;height:'+h+'px';
  document.body.appendChild(cv);
  const pt = r => ({borderWidth:0, pointRadius:r, pointHoverRadius:r});
  new Chart(cv,{
    type:'scatter',
    data:{datasets:[
      {label:'fit', data:toPts(p[4]), showLine:true, borderColor:'#000', borderWidth:1.5, borderDash:[4,3], pointRadius:0, fill:false, order:0},
      Object.assign({label:legendLabels[1], data:toPts(p[1]), backgroundColor:COLORS.blue, order:1}, pt(1.55)),
      Object.assign({label:legendLabels[0], data:toPts(p[0]), backgroundColor:COLORS.black, order:2}, pt(1.6)),
      Object.assign({label:legendLabels[3], data:toPts(p[3]), backgroundColor:COLORS.red, order:3}, pt(1.4)),
      Object.assign({label:legendLabels[2], data:toPts(p[2]), backgroundColor:COLORS.green, order:4}, pt(1.6))
    ]},
    options:{
      responsive:false, animation:false, events:[],
      layout:{padding:{top:PT,right:PR,left:0,bottom:0}},
      plugins:{legend:{display:false}, tooltip:{enabled:false}, boxPlugin:{r:spearman[i]}},
      scales:{
        x:{type:'linear', min:xRanges[i][0], max:xRanges[i][1],
           afterBuildTicks:s=>{ s.ticks = xTickValues.map(v=>({value:v})); },
           afterFit:s=>{ s.height=XH; },
           border:{display:false},
           grid:{color:c=>(c.tick && c.tick.value===0)?'#888':'rgba(0,0,0,0)', lineWidth:0.9, drawTicks:true, tickLength:2.5, tickColor:'#555', tickWidth:0.8},
           ticks:{font:{size:4.5, family:'"Liberation Sans", Arial'}, color:'#333', padding:1, maxRotation:0, autoSkip:false},
           title:{display:true, text:xAxisTitle, font:{size:4.5, weight:'bold', family:'"Liberation Sans", Arial'}, color:'#333', padding:0}
        },
        y:{type:'linear', min:yRanges[i][0], max:yRanges[i][1],
           afterBuildTicks:s=>{ s.ticks = yTickValues.map(v=>({value:v})); },
           afterFit:s=>{ s.width=YW; },
           border:{display:false},
           grid:{color:c=>(c.tick && c.tick.value===0)?'#888':'rgba(0,0,0,0)', lineWidth:0.9, drawTicks:true, tickLength:2.5, tickColor:'#555', tickWidth:0.8},
           ticks:{font:{size:4.5, family:'"Liberation Sans", Arial'}, color:'#333', padding:0, minRotation:90, maxRotation:90, crossAlign:'center', autoSkip:false},
           title:{display:true, text:yAxisTitle, font:{size:4.5, weight:'bold', family:'"Liberation Sans", Arial'}, color:'#333', padding:0}
        }
      }
    },
    plugins:[boxPlugin]
  });
  const tp=titlePos[i];
  const big = groupNames[i];
  addTitle(big, tp[0], tp[1], big.length>2 ? 9.5 : 11.5);
  addTitle(comparisons[i], tp[2], tp[3], 7);
});
</script>
</body></html>
